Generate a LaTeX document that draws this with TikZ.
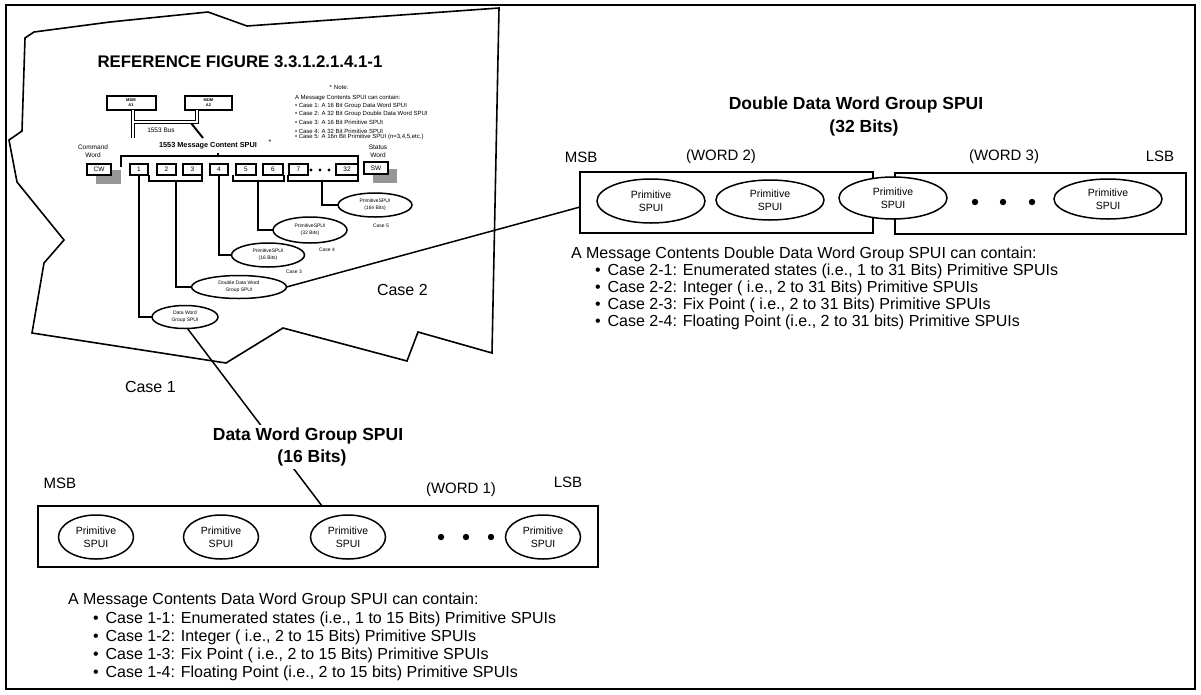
\documentclass[tikz,border=0pt]{standalone}
\usepackage{fontspec}
\setmainfont{Liberation Sans}
\usetikzlibrary{shapes.geometric}
\newcommand\fz[2]{\fontsize{#1}{#2}\selectfont}
\definecolor{shadowgray}{RGB}{150,150,150}
\begin{document}
\begin{tikzpicture}[x=1pt,y=-1pt,
  every node/.style={inner sep=0pt, outer sep=0pt},
  frameline/.style={line width=2pt},
  torn/.style={line width=1.6pt, line join=miter},
  conn/.style={line width=1.5pt},
  bracketline/.style={line width=1.5pt},
  topbracket/.style={line width=2.5pt},
  numbox/.style={draw, line width=2pt, fill=white, minimum height=11pt, font=\fz{6.5}{7}},
  mdmbox/.style={draw, line width=2pt, fill=white, minimum width=49pt, minimum height=14pt, align=center, font=\fz{4}{5}\bfseries},
  upell/.style={ellipse, draw, line width=1.5pt, fill=white, align=center, font=\fz{5}{7}},
  bigell/.style={ellipse, draw, line width=1.5pt, fill=white, align=center, font=\fz{10.5}{13}},
  wordbox/.style={draw, line width=1.5pt},
  tinytext/.style={font=\fz{5}{6}},
  notetext/.style={anchor=west, font=\fz{6}{7}},
  bigtitle/.style={font=\fz{17.5}{20}\bfseries},
  midtext/.style={font=\fz{15}{17}},
  listtext/.style={anchor=west, font=\fz{16}{18}},
  bigcase/.style={anchor=west, font=\fz{16}{18}},
  shadow/.style={fill=shadowgray, draw=none}
]
\useasboundingbox (0,0) rectangle (1201,694);
% outer frame
\draw[frameline] (6,5) rectangle (1195,689);
% torn sheet outline
\draw[torn] (25,38) -- (34,32) -- (110,22) -- (208,12) -- (247,26) -- (499,8)
  -- (492,353) -- (418,332) -- (407,361) -- (283,328) -- (226,363) -- (32,333)
  -- (44,263) -- (64,240) -- (17,182) -- (9,140) -- (22,131) -- cycle;

% title
\node[font=\fz{16.8}{18}\bfseries] (reftitle) at (240,62) {REFERENCE FIGURE 3.3.1.2.1.4.1-1};

% note
\node[font=\fz{6}{7}] (notehead) at (339,87) {*\,\,Note:};
\node[notetext] (n0) at (295,98) {A Message Contents SPUI can contain:};
\node[notetext] (n1) at (295,106) {• Case 1: A 16 Bit Group Data Word SPUI};
\node[notetext] (n2) at (295,114) {• Case 2: A 32 Bit Group Double Data Word SPUI};
\node[notetext] (n3) at (295,122) {• Case 3: A 16 Bit Primitive SPUI};
\node[notetext] (n4) at (295,131) {• Case 4: A 32 Bit Primitive SPUI};
\node[notetext] (n5) at (295,137) {• Case 5: A 16n Bit Primitive SPUI (n=3,4,5,etc.)};

% MDM boxes and bus
\node[mdmbox] (a1) at (131,103) {MDM\\A1};
\node[mdmbox, minimum width=47pt] (a2) at (208.5,103) {MDM\\A2};
\coordinate (busA) at (133,110);
\coordinate (busB) at (133,138);
\coordinate (busJ) at (133,122);
\coordinate (busK) at (197,122);
\coordinate (busC) at (197,110);
\coordinate (diagS) at (191,123);
\coordinate (diagE) at (203,138);
\draw[line width=2pt] (diagS) -- (diagE);
\draw[line width=4.5pt] (busA) -- (busB);
\draw[line width=4.5pt, line join=miter] (busJ) -- (busK) -- (busC);
\draw[line width=1.4pt, white] (busA) -- (busB);
\draw[line width=1.4pt, white, line join=miter] (busJ) -- (busK) -- (busC);
\node[font=\fz{6.5}{7}] (buslbl) at (161,130) {1553 Bus};

% message content label
\node[font=\fz{7.3}{8}\bfseries] (mclbl) at (208,146) {1553 Message Content SPUI};
\node[font=\fz{7}{8}] (mcstar) at (270,142) {*};
\node[font=\fz{6.5}{8}, align=center] (cwlbl) at (93,151) {Command\\Word};
\node[font=\fz{6.5}{8}, align=center] (swlbl) at (378,151) {Status\\Word};

% shadows
\fill[shadow] (96,170) rectangle (121,184);
\fill[shadow] (373,169) rectangle (397,183);

% word boxes
\node[numbox, minimum width=24pt] (cw) at (99,169) {CW};
\node[numbox, minimum width=24pt, minimum height=12pt] (sw) at (376,168) {SW};
\node[numbox, minimum width=18pt] (b1) at (139,169.5) {1};
\node[numbox, minimum width=19pt] (b2) at (166.5,169.5) {2};
\node[numbox, minimum width=19pt] (b3) at (192.5,169.5) {3};
\node[numbox, minimum width=18pt] (b4) at (219,169.5) {4};
\node[numbox, minimum width=20pt] (b5) at (246,169.5) {5};
\node[numbox, minimum width=20pt] (b6) at (273,169.5) {6};
\node[numbox, minimum width=19pt] (b7) at (298.5,169.5) {7};
\node[numbox, minimum width=22pt] (b32) at (347,169.5) {32};
\fill (311,170) circle (1.6);
\fill (320,170) circle (1.6);
\fill (329,170) circle (1.6);

% top bracket
\draw[topbracket, line join=miter] (121,167) -- (121,156) -- (358,156) -- (358,167);
\draw[line width=1.5pt] (218,156) -- (218,153);

% lower brackets
\draw[bracketline, line join=miter] (149,175) -- (149,181) -- (202,181) -- (202,175);
\draw[bracketline, line join=miter] (233,175) -- (233,181) -- (284,181) -- (284,175);
\draw[bracketline, line join=miter] (288,175) -- (288,181) -- (358,181) -- (358,175);
\coordinate (br13) at (176,181);
\coordinate (br56) at (258,181);
\coordinate (br732) at (322,181);

% small ellipses
\node[upell, minimum width=66pt, minimum height=23pt] (dw) at (185,317) {Data Word\\Group SPUI};
\node[upell, minimum width=95pt, minimum height=23pt] (ddw) at (239,287) {Double Data Word\\Group SPUI};
\node[upell, minimum width=73pt, minimum height=24pt] (p16) at (268,255) {PrimitiveSPUI\\(16 Bits)};
\node[upell, minimum width=74pt, minimum height=26pt] (p32) at (310,230) {PrimitiveSPUI\\(32 Bits)};
\node[upell, minimum width=74pt, minimum height=24pt] (p16n) at (375,205) {PrimitiveSPUI\\(16n Bits)};

% connectors from words to ellipses
\draw[conn] (b1.south) |- (dw.west);
\draw[conn] (br13) |- (ddw.west);
\draw[conn] (b4.south) |- (p16.west);
\draw[conn] (br56) |- (p32.west);
\draw[conn] (br732) |- (p16n.west);

% case labels
\node[tinytext] (c3) at (294,272) {Case 3};
\node[tinytext] (c4) at (327,250) {Case 4};
\node[tinytext] (c5) at (381,226) {Case 5};
\node[bigcase] (case2) at (377,290) {Case 2};
\node[bigcase] (case1) at (125,387) {Case 1};

% ---------------- Double data word group (right) ----------------
\node[bigtitle] (ddtitle) at (856,105) {Double Data Word Group SPUI};
\node[bigtitle] (ddbits) at (864,128) {(32 Bits)};
\node[midtext] (msb2) at (581,157) {MSB};
\node[midtext] (word2) at (721,157) {(WORD 2)};
\node[midtext] (word3) at (1004,157) {(WORD 3)};
\node[midtext] (lsb2) at (1160,156) {LSB};
\node[wordbox, minimum width=293pt, minimum height=61pt] (w2box) at (726.5,202.5) {};
\node[wordbox, minimum width=291pt, minimum height=61pt] (w3box) at (1040.5,203.5) {};
\node[bigell, minimum width=108pt, minimum height=44pt] (r1) at (651,201) {Primitive\\SPUI};
\node[bigell, minimum width=108pt, minimum height=40pt] (r2) at (770,200) {Primitive\\SPUI};
\node[bigell, minimum width=108pt, minimum height=42pt] (r3) at (893,198) {Primitive\\SPUI};
\node[bigell, minimum width=108pt, minimum height=40pt] (r4) at (1108,199) {Primitive\\SPUI};
\fill (975,202) circle (3.2);
\fill (1003,202) circle (3.2);
\fill (1032,202) circle (3.2);
\coordinate (w2in) at (580,207);
\draw[conn] (ddw.east) -- (w2in);

\node[listtext] (rl0) at (571,254) {A Message Contents Double Data Word Group SPUI can contain:};
\node[listtext] (rl1) at (595,271) {•\hspace{7pt}Case 2-1: Enumerated states (i.e., 1 to 31 Bits) Primitive SPUIs};
\node[listtext] (rl2) at (595,288) {•\hspace{7pt}Case 2-2: Integer ( i.e., 2 to 31 Bits) Primitive SPUIs};
\node[listtext] (rl3) at (595,305) {•\hspace{7pt}Case 2-3: Fix Point ( i.e., 2 to 31 Bits) Primitive SPUIs};
\node[listtext] (rl4) at (595,322) {•\hspace{7pt}Case 2-4: Floating Point (i.e., 2 to 31 bits) Primitive SPUIs};

% ---------------- Data word group (bottom) ----------------
\coordinate (w1in) at (322,506);
\draw[conn] (dw.-78) -- (w1in);
\node[bigtitle, fill=white, inner sep=3pt] (dwtitle) at (308,436) {Data Word Group SPUI};
\node[bigtitle, fill=white, inner sep=3pt] (dwbits) at (312,458) {(16 Bits)};
\node[midtext] (msb1) at (60,483) {MSB};
\node[midtext] (word1) at (461,490) {(WORD 1)};
\node[midtext] (lsb1) at (568,482) {LSB};
\node[wordbox, minimum width=560pt, minimum height=61pt] (w1box) at (318,536.5) {};
\node[bigell, minimum width=75pt, minimum height=44pt] (q1) at (96,537) {Primitive\\SPUI};
\node[bigell, minimum width=75pt, minimum height=44pt] (q2) at (221,537) {Primitive\\SPUI};
\node[bigell, minimum width=75pt, minimum height=44pt] (q3) at (348,537) {Primitive\\SPUI};
\node[bigell, minimum width=75pt, minimum height=44pt] (q4) at (543,537) {Primitive\\SPUI};
\fill (441,537) circle (3.2);
\fill (466,537) circle (3.2);
\fill (491,537) circle (3.2);

\node[listtext] (bl0) at (68,600) {A Message Contents Data Word Group SPUI can contain:};
\node[listtext] (bl1) at (93,619) {•\hspace{7pt}Case 1-1: Enumerated states (i.e., 1 to 15 Bits) Primitive SPUIs};
\node[listtext] (bl2) at (93,637) {•\hspace{7pt}Case 1-2: Integer ( i.e., 2 to 15 Bits) Primitive SPUIs};
\node[listtext] (bl3) at (93,655) {•\hspace{7pt}Case 1-3: Fix Point ( i.e., 2 to 15 Bits) Primitive SPUIs};
\node[listtext] (bl4) at (93,673) {•\hspace{7pt}Case 1-4: Floating Point (i.e., 2 to 15 bits) Primitive SPUIs};
\end{tikzpicture}
\end{document}
